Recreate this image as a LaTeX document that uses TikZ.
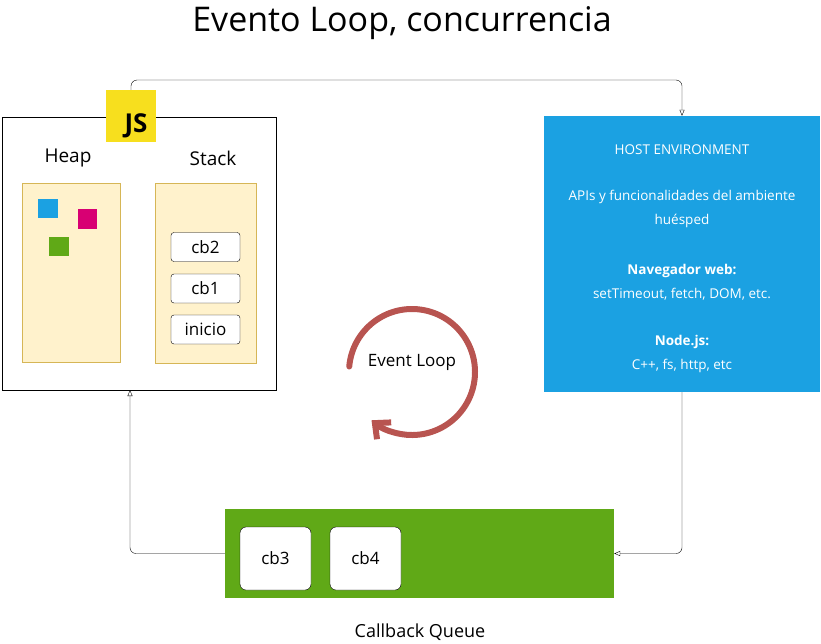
\documentclass[tikz,border=0pt]{standalone}
\usepackage{fontspec}
\setmainfont{Open Sans}
\usetikzlibrary{arrows.meta}
\definecolor{jsyellow}{HTML}{F7DF1E}
\definecolor{panelfill}{HTML}{FFF2CC}
\definecolor{paneldraw}{HTML}{D6B656}
\definecolor{hostblue}{HTML}{1BA1E2}
\definecolor{heappink}{HTML}{D80073}
\definecolor{queuegreen}{HTML}{60A917}
\definecolor{looped}{HTML}{B85450}
\tikzset{
	panel/.style={draw=paneldraw, fill=panelfill, thick},
	frame/.style={draw, rectangle, minimum width=69pt, minimum height=29pt, rounded corners=3pt, fill=white, font=\fontsize{17}{20}\selectfont},
	hosttext/.style={text=white, align=center, font=\fontsize{13.5}{24}\selectfont},
	edge/.style={-{Triangle[open,length=6pt,width=5pt]}, thin, rounded corners=6pt}
}
\begin{document}
\begin{tikzpicture}[x=1pt, y=-1pt]
	\useasboundingbox (0,0) rectangle (821,643);
	\node(title) at (402,23) {\fontsize{34}{40}\selectfont Evento Loop, concurrencia};
	
	% motor de JS
	\node(engine) at (139,253.5) [draw, thick, minimum width=274pt, minimum height=273pt] {};
	\coordinate(engbot) at (130,390);
	\node(js) at (131,116) [fill=jsyellow, minimum width=50pt, minimum height=52pt, inner sep=0pt] {};
	\node at (136,126) {\fontsize{26}{28}\selectfont\bfseries JS};
	\node(heaplbl) at (68,158) {\fontsize{19}{22}\selectfont Heap};
	\node(stacklbl) at (213,158) {\fontsize{19}{22}\selectfont Stack};
	\node(heap) at (71,272.5) [panel, minimum width=98pt, minimum height=179pt] {};
	\node(stack) at (205.5,273) [panel, minimum width=101pt, minimum height=180pt] {};
	\fill[hostblue] (38,199) rectangle (58,218);
	\fill[heappink] (78,209) rectangle (97,229);
	\fill[queuegreen] (49,237) rectangle (69,256);
	\node(cb2) at (205.5,247) [frame] {cb2};
	\node(cb1) at (205.5,288.5) [frame] {cb1};
	\node(inicio) at (205.5,329.5) [frame] {inicio};
	
	% entorno anfitrion
	\node(host) at (682,254) [fill=hostblue, minimum width=276pt, minimum height=276pt] {};
	\node[hosttext] at (682,150) {HOST ENVIRONMENT};
	\node[hosttext] at (682,209) {APIs y funcionalidades del ambiente\\huésped};
	\node[hosttext] at (682,282) {\textbf{Navegador web:}\\setTimeout, fetch, DOM, etc.};
	\node[hosttext] at (682,354) {\textbf{Node.js:}\\C++, fs, http, etc};
	
	% cola de callbacks
	\node(queue) at (419.5,553.5) [fill=queuegreen, minimum width=389pt, minimum height=89pt] {};
	\node(cb3) at (275.5,558.5) [frame, minimum width=71pt, minimum height=63pt, rounded corners=6pt] {cb3};
	\node(cb4) at (365.5,558.5) [frame, minimum width=71pt, minimum height=63pt, rounded corners=6pt] {cb4};
	\node(queuelbl) at (420,632) {\fontsize{18}{20}\selectfont Callback Queue};
	
	% event loop
	\node(loop) at (412,362) {\fontsize{17}{20}\selectfont Event Loop};
	\draw[looped, line width=6pt, line cap=round, -{Straight Barb[length=12pt, width=22pt]}] (412,372) ++(185:63) arc[start angle=185, end angle=490, radius=63];
	
	\draw[edge](js.north) |- (682,80) -- (host.north);
	\draw[edge](host.south) |- (queue.east);
	\draw[edge](queue.west) -| (engbot);
\end{tikzpicture}
\end{document}
